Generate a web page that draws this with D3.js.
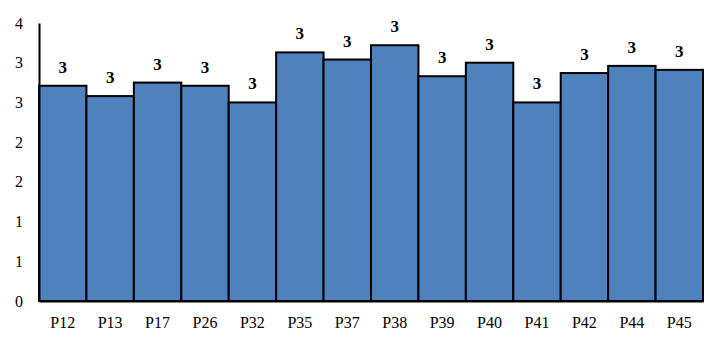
<!DOCTYPE html>
<html><head><meta charset="utf-8">
<script src="https://cdn.jsdelivr.net/npm/d3@7"></script>
<style>html,body{margin:0;padding:0;background:#fff;}
svg text{font-family:"Liberation Serif","Times New Roman",Times,serif !important;}</style>
</head><body>
<svg id="c" width="726" height="348"></svg>
<script>
const categories = ["P12","P13","P17","P26","P32","P35","P37","P38","P39","P40","P41","P42","P44","P45"];
const values = [2.71,2.58,2.75,2.71,2.5,3.13,3.04,3.22,2.83,3.0,2.5,2.87,2.96,2.91];
const yTicks = [0,0.5,1,1.5,2,2.5,3,3.5];

const svg = d3.select("#c");
const m = {l:39, r:23, t:23, b:47};
const W = 726, H = 348;
const x = d3.scaleBand().domain(categories).range([m.l, W - m.r]).padding(0);
const y = d3.scaleLinear().domain([0,3.5]).range([H - m.b, m.t]);
const fmt = v => String(Math.floor(v + 0.5));

svg.append("g").selectAll("rect").data(values).join("rect")
  .attr("x", (d,i) => x(categories[i]))
  .attr("y", d => y(d))
  .attr("width", x.bandwidth())
  .attr("height", d => y(0) - y(d))
  .attr("fill", "#4f81bd")
  .attr("stroke", "#000")
  .attr("stroke-width", 2);

svg.append("g").selectAll("text").data(values).join("text")
  .attr("x", (d,i) => x(categories[i]) + x.bandwidth()/2)
  .attr("y", d => y(d) - 13)
  .attr("text-anchor", "middle")
  .attr("font-weight", "bold").attr("font-size", 17)
  .attr("fill", "#000")
  .text(d => fmt(d));

const ya = svg.append("g").attr("transform", `translate(${m.l},0)`)
  .call(d3.axisLeft(y).tickValues(yTicks).tickFormat(fmt).tickSize(0).tickPadding(16));
ya.select(".domain").attr("stroke","#000").attr("stroke-width",2);
ya.selectAll("text").attr("font-size", 16).attr("fill","#000");

const xa = svg.append("g").attr("transform", `translate(0,${H - m.b})`)
  .call(d3.axisBottom(x).tickSize(0).tickPadding(16));
xa.select(".domain").attr("stroke","#000").attr("stroke-width",2);
xa.selectAll("text").attr("font-size", 16).attr("fill","#000");
</script>
</body></html>
